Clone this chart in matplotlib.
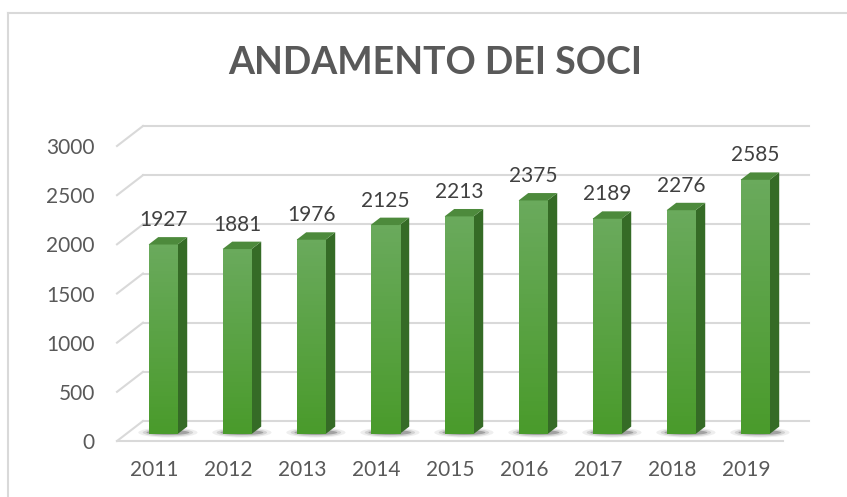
import numpy as np
import matplotlib
matplotlib.use('Agg')
import matplotlib.pyplot as plt
from matplotlib.patches import Polygon, Ellipse
from matplotlib.lines import Line2D

anni = ['2011', '2012', '2013', '2014', '2015', '2016', '2017', '2018', '2019']
soci = [1927, 1881, 1976, 2125, 2213, 2375, 2189, 2276, 2585]
y_ticks = [0, 500, 1000, 1500, 2000, 2500, 3000]
titolo = 'ANDAMENTO DEI SOCI'

plt.rcParams['font.family'] = ['Lato', 'DejaVu Sans']
grigio = '#595959'

W, H = 847, 497
fig = plt.figure(figsize=(W / 100, H / 100), dpi=100)

# front plane of the fake 3d box, in pixels
x0_px, x1_px = 117, 783
y0_px, y3000_px = 441, 146
ax = fig.add_axes([x0_px / W, (H - y0_px) / H, (x1_px - x0_px) / W, (y0_px - y3000_px) / H])
ax.set_xlim(-0.5, len(anni) - 0.5)
ax.set_ylim(0, 3000)
for s in ax.spines.values():
    s.set_visible(False)

# depth of the box converted to data units
px_x = (x1_px - x0_px) / len(anni)
px_y = (y0_px - y3000_px) / 3000
dx = 26 / px_x
dy = 20 / px_y

grid_col = '#d9d9d9'
n = len(anni)
for v in y_ticks:
    # back wall
    ax.add_line(Line2D([-0.5 + dx, n - 0.5 + dx], [v + dy, v + dy], color=grid_col, lw=1.5, clip_on=False, zorder=1))
    # left wall
    ax.add_line(Line2D([-0.5, -0.5 + dx], [v, v + dy], color=grid_col, lw=1.5, clip_on=False, zorder=1))
# floor front edge
ax.add_line(Line2D([-0.5, n - 0.5], [0, 0], color=grid_col, lw=1.5, clip_on=False, zorder=1))

# bars
a, b = 0.35, 0.72
w = 29 / px_x
grad = np.linspace(0, 1, 50)[:, None]
top_c = np.array([106, 170, 92]) / 255
bot_c = np.array([74, 155, 44]) / 255
img = (top_c[None, None, :] * (1 - grad[..., None]) + bot_c[None, None, :] * grad[..., None])
img = np.repeat(img, 2, axis=1)

for i, v in enumerate(soci):
    xl = i - w / 2 + a * dx
    xr = i + w / 2 + a * dx
    yb = a * dy
    ddx = (b - a) * dx
    ddy = (b - a) * dy

    # shadow on the floor
    for ew, eh, al in [(0.8, 10, 0.08), (0.68, 8, 0.14), (0.58, 5, 0.3)]:
        ax.add_patch(Ellipse((i + (a + b) / 2 * dx, yb + 1.5 / px_y), ew, eh / px_y,
                             color='#303030', alpha=al, lw=0, clip_on=False, zorder=2))

    ax.imshow(img, extent=(xl, xr, yb, v + yb), aspect='auto', zorder=4, clip_on=False)
    side = [(xr, yb), (xr + ddx, yb + ddy), (xr + ddx, v + yb + ddy), (xr, v + yb)]
    ax.add_patch(Polygon(side, closed=True, facecolor='#356b26', edgecolor='none', clip_on=False, zorder=3))
    top = [(xl, v + yb), (xr, v + yb), (xr + ddx, v + yb + ddy), (xl + ddx, v + yb + ddy)]
    ax.add_patch(Polygon(top, closed=True, facecolor='#4d8a3c', edgecolor='none', clip_on=False, zorder=5))

    ax.annotate(str(v), (i + a * dx, v + b * dy), xytext=(0, 8), textcoords='offset points',
                ha='center', va='baseline', fontsize=15, color='#404040', annotation_clip=False, zorder=6)

ax.set_xlim(-0.5, n - 0.5)
ax.set_ylim(0, 3000)

ax.set_xticks(range(n))
ax.set_xticklabels(anni)
ax.set_yticks(y_ticks)
ax.set_yticklabels([str(t) for t in y_ticks])
ax.tick_params(axis='both', length=0, labelsize=15, labelcolor=grigio)
ax.tick_params(axis='x', pad=14)
ax.tick_params(axis='y', pad=16)

fig.text(435 / W, 1 - 63 / H, titolo, ha='center', va='center', fontsize=27,
         fontweight='bold', color=grigio)

# chart border
fig.add_artist(Line2D([8 / W, 8 / W], [0, 1 - 13 / H], color='#d9d9d9', lw=1.5))
fig.add_artist(Line2D([8 / W, 846 / W], [1 - 13 / H, 1 - 13 / H], color='#d9d9d9', lw=1.5))

fig.savefig('out.png', dpi=100)
